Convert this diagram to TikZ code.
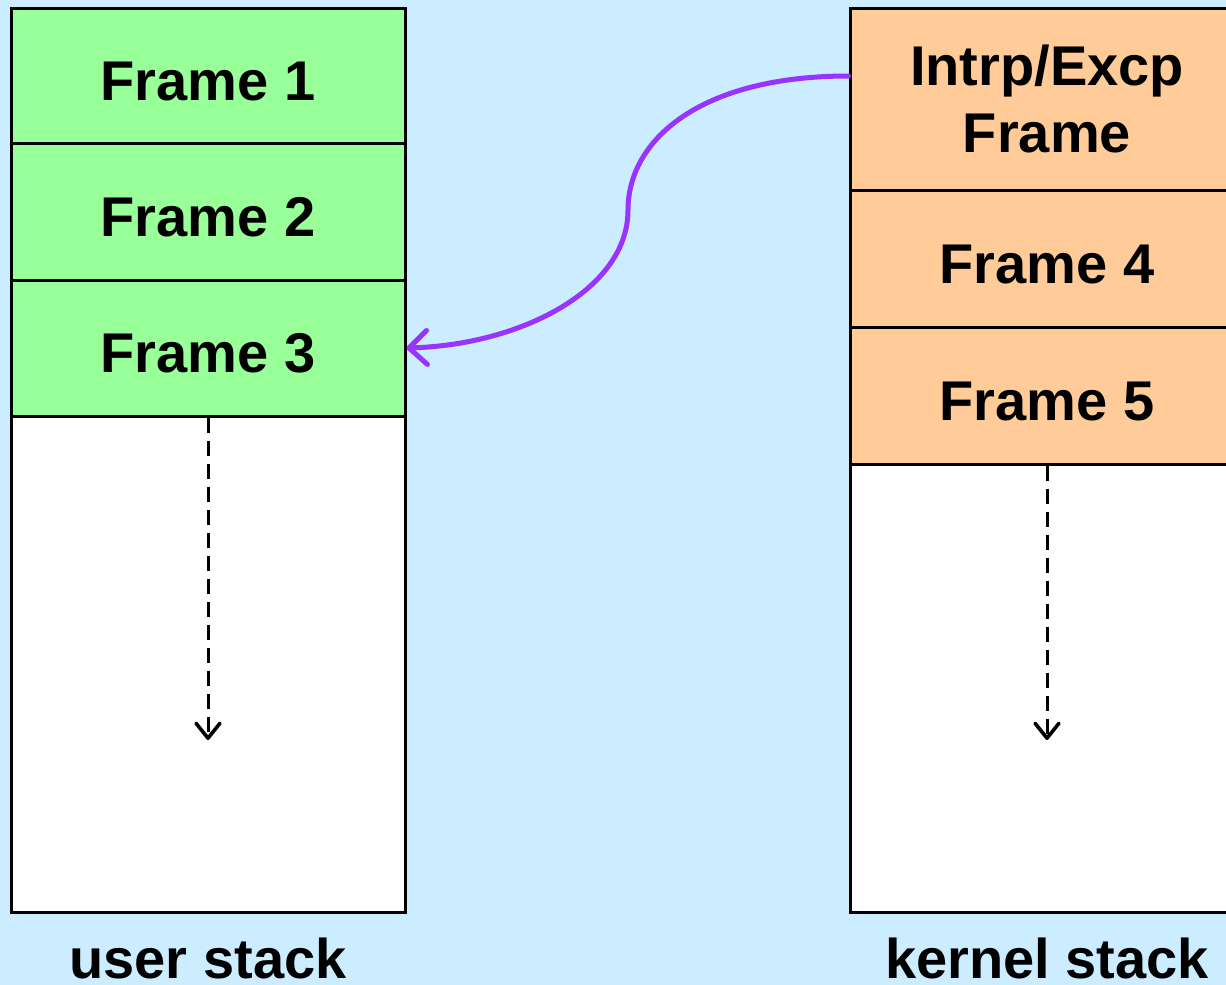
\documentclass[tikz,border=0pt]{standalone}
\usepackage{fontspec}
\setmainfont{Liberation Sans}
\usetikzlibrary{arrows.meta}
\definecolor{bgblue}{HTML}{CCECFF}
\definecolor{ugreen}{HTML}{99FF99}
\definecolor{korange}{HTML}{FFCC99}
\definecolor{purp}{HTML}{9933FF}
\tikzset{
  stackbox/.style={draw=black, line width=1.5pt, minimum width=197pt, inner sep=0pt, align=center,
    font=\fontsize{28}{33.5}\selectfont\bfseries},
  onetext/.style={text height=24.5pt, text depth=0pt},
  ubox/.style={stackbox, onetext, fill=ugreen},
  kbox/.style={stackbox, fill=korange},
  emptybox/.style={stackbox, fill=white},
  growarrow/.style={line width=1.5pt, dash pattern=on 7.5pt off 4pt, -{Straight Barb[length=7.5pt,width=12pt,line width=1.8pt,round]}},
  linkarrow/.style={purp, line width=2.5pt, line cap=round, -{Straight Barb[length=9pt,width=17pt,line width=2.5pt,round]}},
  caption/.style={anchor=base, font=\fontsize{28}{33.5}\selectfont\bfseries}
}
\begin{document}
\begin{tikzpicture}[x=0.5pt,y=-0.5pt]
\fill[bgblue] (0,0) rectangle (1226,985);
\useasboundingbox (0,0) rectangle (1226,985);
\clip (0,0) rectangle (1226,985);
% user stack
\node[ubox, minimum height=67.5pt] (f1) at (208,75.5) {Frame 1};
\node[ubox, minimum height=68.5pt] (f2) at (208,211.5) {Frame 2};
\node[ubox, minimum height=68pt] (f3) at (208,348) {Frame 3};
\node[emptybox, minimum height=248pt] (uw) at (208,664) {};
% kernel stack
\node[kbox, minimum height=91pt] (ki) at (1047,99) {Intrp/Excp\\Frame};
\node[kbox, onetext, minimum height=68.5pt] (f4) at (1047,258.5) {Frame 4};
\node[kbox, onetext, minimum height=68.5pt] (f5) at (1047,395.5) {Frame 5};
\node[emptybox, minimum height=224pt] (kw) at (1047,688) {};
% growth arrows
\coordinate (uend) at (208,740);
\coordinate (kend) at (1047,740);
\draw[growarrow] (f3.south) -- (uend);
\draw[growarrow] (f5.south) -- (kend);
% link
\coordinate (kstart) at ([yshift=11.5pt]ki.west);
\draw[linkarrow] (kstart) .. controls (700,76) and (628,140) .. (628,210)
  .. controls (628,290) and (520,345) .. (f3.east);
% captions
\node[caption] (ucap) at (208,978) {user stack};
\node[caption] (kcap) at (1047,978) {kernel stack};
\end{tikzpicture}
\end{document}
